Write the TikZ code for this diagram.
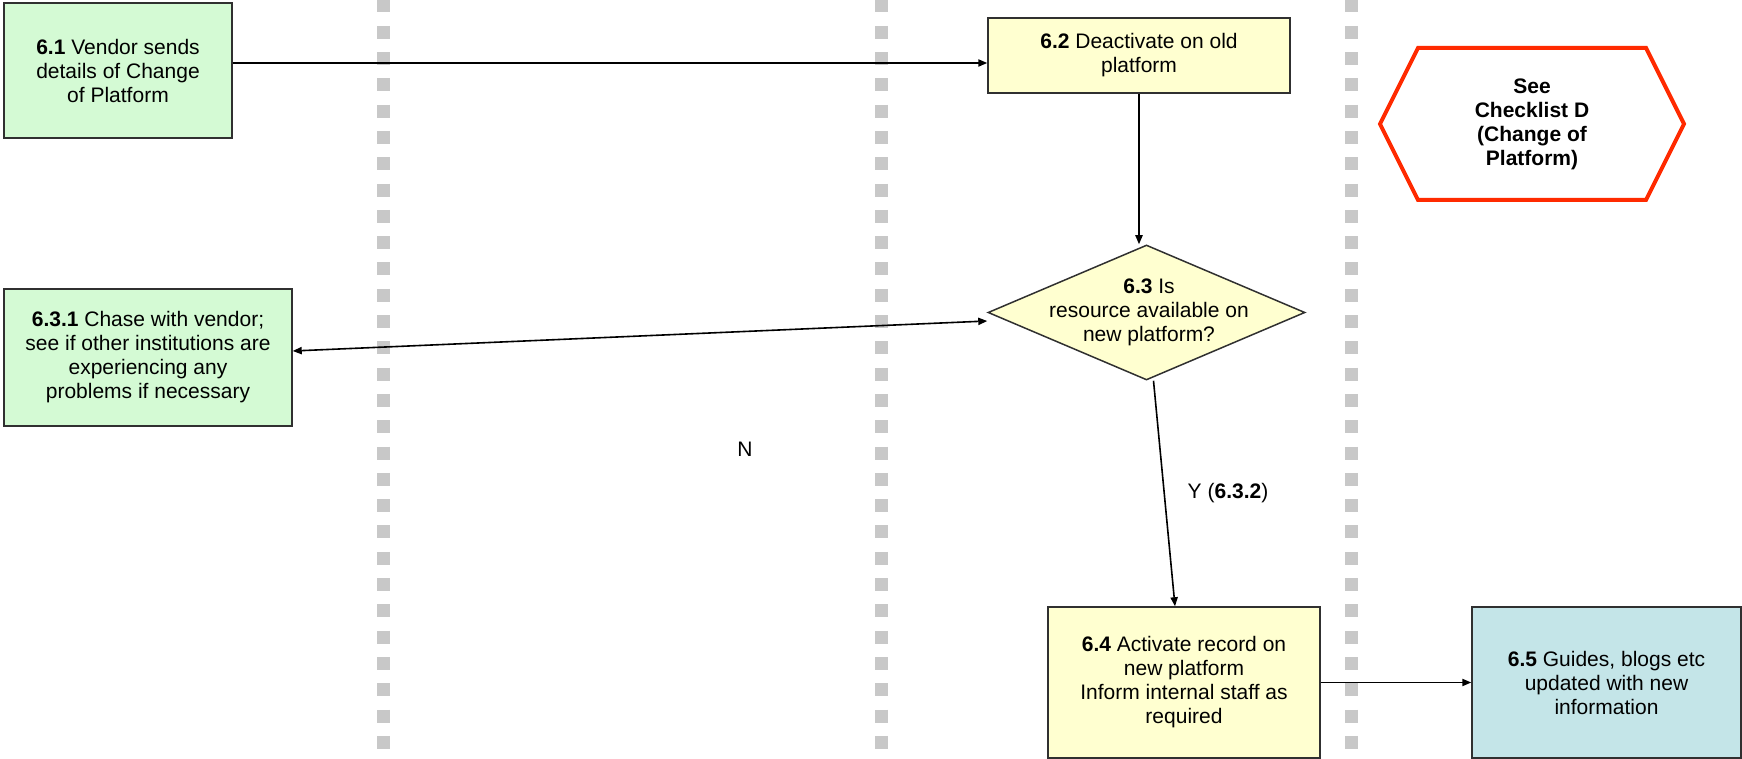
\documentclass[tikz,border=0pt]{standalone}
\usepackage{fontspec}
\setmainfont{Liberation Sans}
\usetikzlibrary{arrows.meta,shapes.geometric}
\definecolor{boxgreen}{HTML}{D4FAD4}
\definecolor{boxyellow}{HTML}{FFFFD0}
\definecolor{boxblue}{HTML}{C4E5E8}
\definecolor{lanegray}{HTML}{C8C8C8}
\definecolor{hexred}{HTML}{FF2A00}
\definecolor{edgegray}{HTML}{303030}
\begin{document}
\begin{tikzpicture}[x=0.5pt,y=-0.5pt,
  every node/.style={font=\fontsize{10.5}{12}\selectfont, align=center, inner sep=0pt},
  procbox/.style={draw=edgegray, line width=0.75pt, rectangle},
  decbox/.style={draw=edgegray, line width=0.75pt, diamond, fill=boxyellow},
  lane/.style={draw=lanegray, line width=6.5pt, dash pattern=on 6.5pt off 6.65pt},
  arr/.style={draw=black, line width=0.8pt, -{Triangle[length=4.5pt,width=3.6pt]}},
  darr/.style={draw=black, line width=0.8pt, {Triangle[length=4.5pt,width=3.6pt]}-{Triangle[length=4.5pt,width=3.6pt]}},
  hexline/.style={draw=hexred, line width=2pt, line join=miter},
]
\useasboundingbox (0,0) rectangle (1742,759);

% swimlane separators
\draw[lane] (383.5,-0.5) -- (383.5,760);
\draw[lane] (881.5,-0.5) -- (881.5,760);
\draw[lane] (1351,-0.5) -- (1351,760);

% process boxes
\node[procbox, fill=boxgreen, minimum width=114pt, minimum height=67.5pt] (b61) at (118,70.5)
  {\textbf{6.1} Vendor sends\\details of Change\\of Platform};
\node[procbox, fill=boxyellow, minimum width=151pt, minimum height=37.5pt] (b62) at (1139,55.5)
  {\textbf{6.2} Deactivate on old\\platform};
\node[procbox, fill=boxgreen, minimum width=144pt, minimum height=68.5pt] (b631) at (148,357.5)
  {\textbf{6.3.1} Chase with vendor;\\see if other institutions are\\experiencing any\\problems if necessary};
\node[decbox, minimum width=158.5pt, minimum height=67.5pt] (d63) at (1146.5,312.5) {};
\node (d63t) at (1149,312) {\textbf{6.3} Is\\resource available on\\new platform?};
\node[procbox, fill=boxyellow, minimum width=136pt, minimum height=75.5pt] (b64) at (1184,682.5)
  {\textbf{6.4} Activate record on\\new platform\\Inform internal staff as\\required};
\node[procbox, fill=boxblue, minimum width=134.5pt, minimum height=75.5pt] (b65) at (1606.5,682.5)
  {\textbf{6.5} Guides, blogs etc\\updated with new\\information};

% off-page reference hexagon
\draw[hexline] (1380,124) -- (1418,48) -- (1646,48) -- (1684,124) -- (1646,200) -- (1418,200) -- cycle;
\node[font=\fontsize{10.5}{12}\selectfont\bfseries] (hex) at (1532,124) {See\\Checklist D\\(Change of\\Platform)};

% connectors
\draw[arr] ([yshift=3.75pt]b61.east) -- ([yshift=-3.75pt]b62.west);
\draw[arr] (b62.south) -- (b62.south |- d63.north);
\draw[darr] ([yshift=3.25pt]b631.east) -- ([yshift=-4.25pt]d63.west);
\draw[arr] ([xshift=3.5pt]d63.south) -- ([xshift=-4.5pt]b64.north);
\draw[arr] (b64.east) -- (b65.west);

% labels
\node (lblN) at (745,449) {N};
\node (lblY) at (1228,493) {Y (\textbf{6.3.2})};
\end{tikzpicture}
\end{document}
